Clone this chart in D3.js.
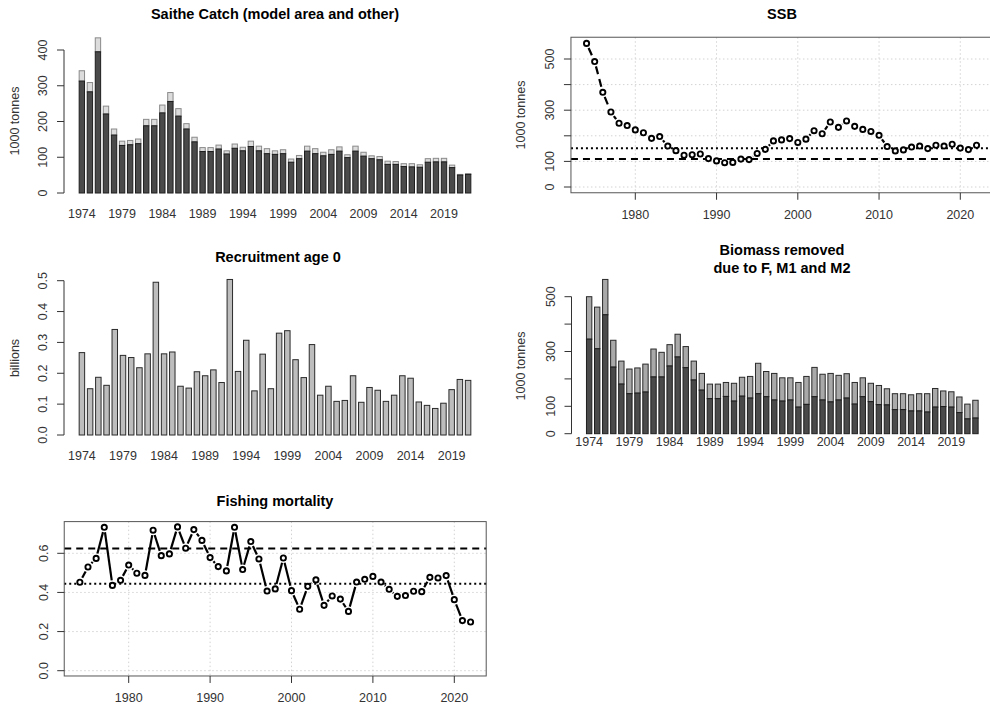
<!DOCTYPE html>
<html><head><meta charset="utf-8">
<script src="https://cdn.jsdelivr.net/npm/d3@7"></script>
<style>body{margin:0;background:#fff}svg{display:block;font-family:"Liberation Sans",Arial,sans-serif}</style>
</head><body><svg id="c" width="990" height="708"></svg>
<script>
const years = d3.range(1974, 2023);
const recYears = d3.range(1974, 2022);
const catchTotal = [342,309,434,243,179,145,147,151,206,206,246,281,236,194,156,127,127,134,118,137,128,145,131,124,118,121,95,105,131,124,114,121,129,107,131,114,104,102,89,88,82,82,79,96,97,97,78,52,54];
const catchModel = [313,283,395,221,162,133,135,138,188,188,224,256,215,179,143,116,116,123,109,125,118,130,118,110,108,110,86,96,117,110,104,108,117,99,117,103,96,93,80,80,74,73,72,86,87,87,71,50,52];
const ssb = [561,490,370,293,249,240,223,212,190,197,160,142,124,126,129,111,102,95,96,109,107,131,147,180,184,189,174,187,220,208,254,233,258,237,225,217,202,158,141,145,156,160,150,163,160,167,152,146,163];
const recruit = [0.267,0.150,0.187,0.161,0.342,0.258,0.251,0.218,0.263,0.495,0.263,0.269,0.158,0.152,0.205,0.192,0.211,0.170,0.504,0.206,0.307,0.143,0.262,0.150,0.330,0.338,0.244,0.186,0.293,0.129,0.158,0.109,0.112,0.192,0.106,0.154,0.145,0.109,0.129,0.192,0.184,0.107,0.096,0.086,0.103,0.147,0.180,0.177];
const removedTotal = [500,462,563,341,265,236,240,254,309,297,325,363,318,265,220,181,181,187,184,206,209,257,227,220,204,204,187,209,242,217,220,213,219,187,204,184,176,164,146,146,142,146,146,165,156,153,134,108,122];
const removedF = [345,310,434,243,181,146,148,152,207,207,247,280,241,196,159,128,128,136,119,137,130,146,135,123,119,123,97,107,135,123,116,123,130,108,135,117,106,105,88,88,83,83,79,97,99,97,77,54,57];
const fbar = [0.452,0.530,0.574,0.733,0.436,0.462,0.540,0.498,0.487,0.718,0.588,0.597,0.735,0.626,0.721,0.666,0.578,0.532,0.510,0.733,0.517,0.660,0.571,0.407,0.418,0.576,0.409,0.314,0.431,0.464,0.334,0.382,0.366,0.303,0.453,0.467,0.482,0.453,0.416,0.380,0.384,0.406,0.404,0.477,0.474,0.486,0.363,0.256,0.249];
const ssbRef = {dotted: 151, dashed: 109};
const fRef = {dashed: 0.624, dotted: 0.445};
const catchTicks = [0,100,200,300,400];
const recTicks = [0,0.1,0.2,0.3,0.4,0.5];
const remTicks = [0,100,200,300,400,500];
const remLabels = [0,100,300,500];
const ssbTicks = [0,100,200,300,400,500];
const ssbLabels = [0,100,300,500];
const fTicks = [0,0.2,0.4,0.6];
const yearTicks = [1980,1990,2000,2010,2020];

const svg = d3.select("#c");
const AX = "#333", FONT = 12.5;

function title(x, y, lines){
  const t = svg.append("text").attr("x",x).attr("y",y).attr("text-anchor","middle")
    .attr("font-weight","bold").attr("font-size",14.5).attr("fill","#000");
  lines.forEach((l,i)=>t.append("tspan").attr("x",x).attr("dy",i?18:0).text(l));
}
function yAxis(x, scale, ticks, labels, labx, fmt){
  const g = svg.append("g");
  g.append("line").attr("x1",x).attr("x2",x).attr("y1",scale(ticks[0])).attr("y2",scale(ticks[ticks.length-1])).attr("stroke",AX);
  ticks.forEach(t=>g.append("line").attr("x1",x).attr("x2",x-7).attr("y1",scale(t)).attr("y2",scale(t)).attr("stroke",AX));
  labels.forEach(t=>g.append("text").attr("transform",`translate(${labx},${scale(t)}) rotate(-90)`)
    .attr("text-anchor","middle").attr("dy","0.35em").attr("font-size",FONT).attr("fill",AX).text(fmt?fmt(t):t));
}
function yTitle(x, y, s){
  svg.append("text").attr("transform",`translate(${x},${y}) rotate(-90)`).attr("text-anchor","middle")
    .attr("dy","0.35em").attr("font-size",FONT).attr("fill",AX).text(s);
}
function barScale(n, PL, PR, s){
  const D = n*(1+s)-s;
  const sc = d3.scaleLinear().domain([s-0.04*D, n*(1+s)+0.04*D]).range([PL,PR]);
  return {left:i=>sc(s+i*(1+s)), right:i=>sc(s+i*(1+s)+1), center:i=>sc(s+0.5+i*(1+s))};
}
function barXLabels(bx, yrs, y){
  yrs.forEach((yr,i)=>{ if((yr-1974)%5===0)
    svg.append("text").attr("x",bx.center(i)).attr("y",y).attr("dy","0.35em").attr("text-anchor","middle")
      .attr("font-size",FONT).attr("fill",AX).text(yr); });
}

// ---------- Catch ----------
{
  const bx = barScale(years.length, 63.5, 486.5, 0.5);
  const y = d3.scaleLinear().domain([0,400]).range([193,50]);
  const g = svg.append("g");
  years.forEach((yr,i)=>{
    g.append("rect").attr("x",bx.left(i)).attr("width",bx.right(i)-bx.left(i)).attr("y",y(catchTotal[i])).attr("height",y(catchModel[i])-y(catchTotal[i]))
      .attr("fill","#dcdcdc").attr("stroke","#8a8a8a").attr("stroke-width",1);
    g.append("rect").attr("x",bx.left(i)).attr("width",bx.right(i)-bx.left(i)).attr("y",y(catchModel[i])).attr("height",y(0)-y(catchModel[i]))
      .attr("fill","#4a4a4a").attr("stroke","#1e1e1e").attr("stroke-width",1);
  });
  yAxis(64, y, catchTicks, catchTicks, 43);
  yTitle(15, 121, "1000 tonnes");
  barXLabels(bx, years, 214);
  title(275, 19, ["Saithe Catch (model area and other)"]);
}

// ---------- Recruitment ----------
{
  const bx = barScale(recYears.length, 63.5, 486.5, 0.5);
  const y = d3.scaleLinear().domain([0,0.5]).range([435,280.7]);
  recYears.forEach((yr,i)=>{
    svg.append("rect").attr("x",bx.left(i)).attr("width",bx.right(i)-bx.left(i)).attr("y",y(recruit[i])).attr("height",y(0)-y(recruit[i]))
      .attr("fill","#bdbdbd").attr("stroke","#2a2a2a").attr("stroke-width",1);
  });
  yAxis(64, y, recTicks, recTicks, 43, d3.format(".1f"));
  yTitle(15, 358, "billions");
  barXLabels(bx, recYears, 456);
  title(278, 262, ["Recruitment age 0"]);
}

// ---------- Biomass removed ----------
{
  const bx = barScale(years.length, 570.8, 993.8, 0.5);
  const y = d3.scaleLinear().domain([0,500]).range([433.7,296.7]);
  years.forEach((yr,i)=>{
    svg.append("rect").attr("x",bx.left(i)).attr("width",bx.right(i)-bx.left(i)).attr("y",y(removedTotal[i])).attr("height",y(removedF[i])-y(removedTotal[i]))
      .attr("fill","#a9a9a9").attr("stroke","#2a2a2a").attr("stroke-width",1);
    svg.append("rect").attr("x",bx.left(i)).attr("width",bx.right(i)-bx.left(i)).attr("y",y(removedF[i])).attr("height",y(0)-y(removedF[i]))
      .attr("fill","#4a4a4a").attr("stroke","#1e1e1e").attr("stroke-width",1);
  });
  yAxis(571.5, y, remTicks, remLabels, 551);
  yTitle(521, 366, "1000 tonnes");
  barXLabels(bx, years, 442);
  title(782, 255, ["Biomass removed","due to F, M1 and M2"]);
}

// ---------- line panel helper ----------
function linePanel(o){
  const x = d3.scaleLinear().domain([1980,2020]).range(o.xr);
  const y = d3.scaleLinear().domain(o.yd).range(o.yr);
  const L = x(1972.08), R = x(2023.92), T = y(o.ylim[1]), B = y(o.ylim[0]);
  const g = svg.append("g");
  // grid
  yearTicks.forEach(t=>g.append("line").attr("x1",x(t)).attr("x2",x(t)).attr("y1",T).attr("y2",B)
    .attr("stroke","#d3d3d3").attr("stroke-dasharray","1.5,2.5"));
  o.yticks.forEach(t=>g.append("line").attr("x1",L).attr("x2",R).attr("y1",y(t)).attr("y2",y(t))
    .attr("stroke","#d3d3d3").attr("stroke-dasharray","1.5,2.5"));
  // reference lines
  g.append("line").attr("x1",L).attr("x2",R).attr("y1",y(o.dashed)).attr("y2",y(o.dashed))
    .attr("stroke","#000").attr("stroke-width",2).attr("stroke-dasharray","7,5");
  g.append("line").attr("x1",L).attr("x2",R).attr("y1",y(o.dotted)).attr("y2",y(o.dotted))
    .attr("stroke","#000").attr("stroke-width",2).attr("stroke-dasharray","2,3");
  // line segments with gaps (type = "b")
  const gap = 5;
  for(let i=0;i<years.length-1;i++){
    const x1=x(years[i]), y1=y(o.data[i]), x2=x(years[i+1]), y2=y(o.data[i+1]);
    const d=Math.hypot(x2-x1,y2-y1);
    if(d<=2*gap) continue;
    const ux=(x2-x1)/d, uy=(y2-y1)/d;
    g.append("line").attr("x1",x1+ux*gap).attr("y1",y1+uy*gap).attr("x2",x2-ux*gap).attr("y2",y2-uy*gap)
      .attr("stroke","#000").attr("stroke-width",2.2).attr("stroke-dasharray",o.lineDash||null);
  }
  years.forEach((yr,i)=>g.append("circle").attr("cx",x(yr)).attr("cy",y(o.data[i])).attr("r",2.6)
    .attr("fill","#fff").attr("stroke","#000").attr("stroke-width",1.9));
  // box
  g.append("rect").attr("x",L).attr("y",T).attr("width",R-L).attr("height",B-T).attr("fill","none").attr("stroke","#555");
  // x axis
  yearTicks.forEach(t=>{
    g.append("line").attr("x1",x(t)).attr("x2",x(t)).attr("y1",B).attr("y2",B+7).attr("stroke",AX);
    g.append("text").attr("x",x(t)).attr("y",B+22).attr("dy","0.35em").attr("text-anchor","middle").attr("font-size",FONT).attr("fill",AX).text(t);
  });
  // y axis
  o.yticks.forEach(t=>g.append("line").attr("x1",L).attr("x2",L-7).attr("y1",y(t)).attr("y2",y(t)).attr("stroke",AX));
  o.ylabels.forEach(t=>g.append("text").attr("transform",`translate(${L-21},${y(t)}) rotate(-90)`).attr("text-anchor","middle")
    .attr("dy","0.35em").attr("font-size",FONT).attr("fill",AX).text(o.fmt?o.fmt(t):t));
}

// ---------- SSB ----------
linePanel({xr:[635.3,960.3], yd:[0,500], yr:[187,59], ylim:[-22.5,585], data:ssb,
  yticks:ssbTicks, ylabels:ssbLabels, dashed:ssbRef.dashed, dotted:ssbRef.dotted, lineDash:"8,5"});
yTitle(521, 115, "1000 tonnes");
title(782, 19, ["SSB"]);

// ---------- Fishing mortality ----------
linePanel({xr:[128.7,454.3], yd:[0,0.6], yr:[670.7,553.3], ylim:[-0.027,0.762], data:fbar,
  yticks:fTicks, ylabels:fTicks, dashed:fRef.dashed, dotted:fRef.dotted, fmt:d3.format(".1f")});
title(275, 506, ["Fishing mortality"]);
</script></body></html>
